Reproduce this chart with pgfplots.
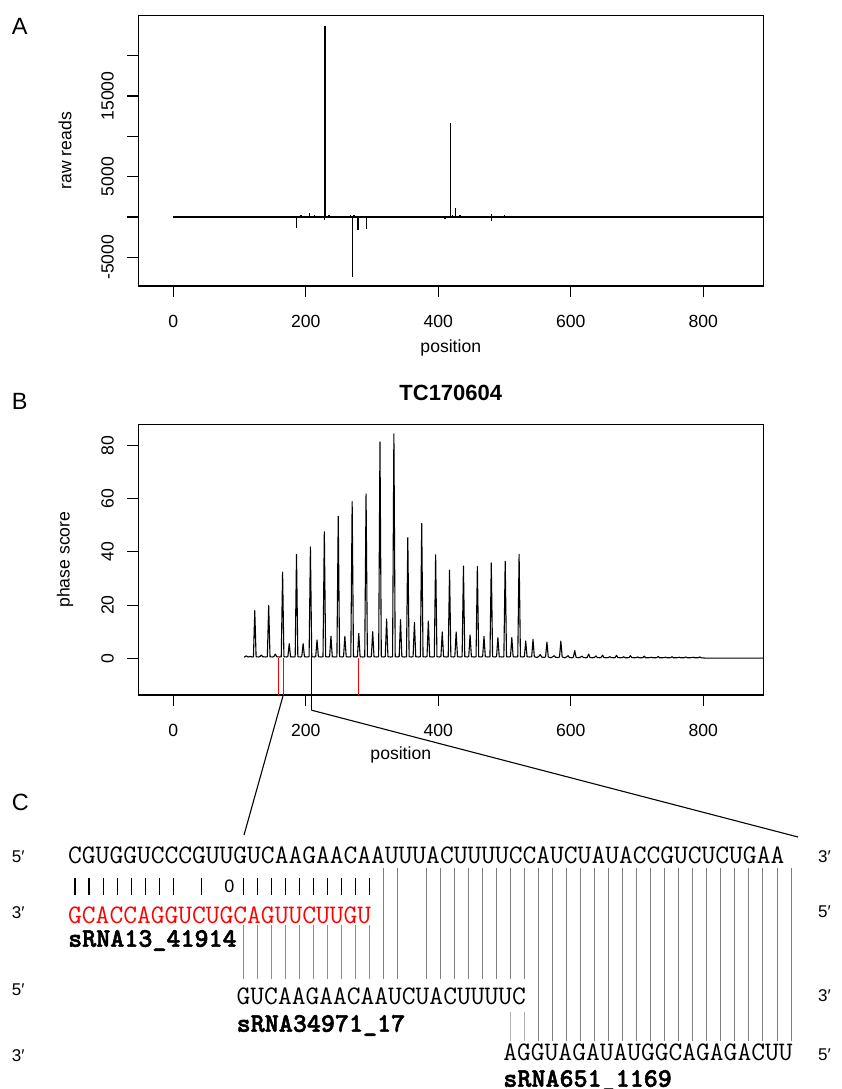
\documentclass[border=0pt]{standalone}
\usepackage{fontspec}
\setmainfont{Liberation Sans}
\newfontfamily\seqbold[FakeBold=2]{lmmonolt10-bold.otf}
\usepackage{pgfplots}
\pgfplotsset{compat=1.18}

\newcommand\axf{\fontsize{17.6}{20}\selectfont}
\newcommand\seqf{\ttfamily\fontsize{26.74}{30}\selectfont}
\newcommand\seqbf{\seqbold\fontsize{26.74}{30}\selectfont}
\newcommand\primef{\fontsize{17}{19}\selectfont}
\newcommand\panelf{\fontsize{23.5}{26}\selectfont}

\pgfplotsset{
  rbox/.style={
    scale only axis, width=625pt, height=270.7pt,
    xmin=-52.8, xmax=890.6,
    tick align=outside, major tick length=11pt,
    tick pos=left,
    xtick={0,200,400,600,800},
    xticklabels={0,200,400,600,800},
    axis line style={line width=1.1pt},
    every tick/.style={black, line width=1.1pt},
    ticklabel style={font=\axf, inner sep=0pt},
    xticklabel style={anchor=base},
    yticklabel style={rotate=90, anchor=base},
    xticklabel shift=30.3pt,
    yticklabel shift=13.7pt,
    label style={font=\axf},
    /pgf/number format/assume math mode=true,
    scaled ticks=false,
  }
}

\begin{document}
\begin{tikzpicture}[x=1pt,y=1pt]
\useasboundingbox (0,0) rectangle (841,-1089);

% ---------------- A: raw reads
\begin{axis}[rbox, at={(138.3pt,-286pt)}, anchor=south west,
    ymin=-8554, ymax=25005,
    ytick={-5000,0,5000,10000,15000,20000},
    yticklabels={-5000,,5000,,15000,},
    xlabel={position}, ylabel={raw reads},
    xlabel style={at={(axis description cs:0.5,-0.227)}, anchor=center},
    ylabel style={at={(axis description cs:-0.117,0.5)}, anchor=center},
  ]
  \addplot[black, line width=1.2pt] coordinates {(0,0) (890.6,0)};
  \addplot[black, ycomb, line width=1.3pt] coordinates {
    (178,80) (186,120) (193,200) (198,150) (206,450) (213,250) (220,150)
    (229,23700) (235,250) (240,150) (262,150) (268,250) (273,200) (283,100)
    (300,100) (320,80) (340,100) (360,80) (380,80) (410,150) (418,11600)
    (421,300) (426,1100) (433,250) (440,150) (450,100) (480,350) (500,300)
    (507,150) (530,80) (560,80) (600,60) (650,60) (688,150) (695,100)
    (750,100) (800,50)
  };
  \addplot[black, ycomb, line width=1.3pt] coordinates {
    (186,-1400) (228,-350) (270,-7400) (279,-1600) (292,-1500) (410,-250)
    (418,-150) (480,-450) (688,-120) (750,-100)
  };
\end{axis}

% ---------------- B: phase score
\begin{axis}[rbox, at={(138.3pt,-695pt)}, anchor=south west,
    ymin=-13.8, ymax=88.0,
    ytick={0,20,40,60,80}, yticklabels={0,20,40,60,80},
    clip=false,
    title={TC170604},
    title style={font=\bfseries\fontsize{22}{24}\selectfont,
      at={(axis description cs:0.5,1)}, anchor=base, yshift=17.6pt, inner sep=0pt},
    xlabel={position}, ylabel={phase score},
    xlabel style={at={(axis description cs:0.42,-0.222)}, anchor=center},
    ylabel style={at={(axis description cs:-0.117,0.5)}, anchor=center},
  ]
  \addplot[black, line width=1.1pt, line join=round] coordinates {
    (107,0.4) (110,0.9) (113,0.5) (116,0.7) (119,0.5) (121,0.6)
    (123,17.9) (125,0.6) (129,0.5) (131,0.7) (133,1.2) (135,0.6) (139,0.5) (142,0.6)
    (144,19.9) (146,0.6) (150,0.5) (152,0.7) (154,1.6) (156,0.6) (160,0.5) (163,0.6)
    (165,32.4) (167,0.6) (171,0.5) (173,0.7) (175,5.5) (177,0.6) (181,0.5) (184,0.6)
    (186,39.1) (188,0.6) (192,0.5) (194,0.7) (196,5.5) (198,0.6) (202,0.5) (205,0.6)
    (207,41.9) (209,0.6) (213,0.5) (215,0.7) (217,6.9) (219,0.6) (223,0.5) (226,0.6)
    (228,47.6) (230,0.6) (234,0.5) (236,0.7) (238,8.3) (240,0.6) (244,0.5) (247,0.6)
    (249,53.4) (251,0.6) (255,0.5) (257,0.7) (259,8.3) (261,0.6) (265,0.5) (268,0.6)
    (270,58.9) (272,0.6) (276,0.5) (278,0.7) (280,9.4) (282,0.6) (286,0.5) (289,0.6)
    (291,61.8) (293,0.6) (297,0.5) (299,0.7) (301,10.0) (303,0.6) (307,0.5) (310,0.6)
    (312,81.4) (314,0.6) (318,0.5) (320,0.7) (322,14.8) (324,0.6) (328,0.5) (331,0.6)
    (333,84.4) (335,0.6) (339,0.5) (341,0.7) (343,14.5) (345,0.6) (349,0.5) (352,0.6)
    (354,45.4) (356,0.6) (360,0.5) (362,0.7) (364,13.5) (366,0.6) (370,0.5) (373,0.6)
    (375,50.7) (377,0.6) (381,0.5) (383,0.7) (385,14.0) (387,0.6) (391,0.5) (394,0.6)
    (396,38.9) (398,0.6) (402,0.5) (404,0.7) (406,9.9) (408,0.6) (412,0.5) (415,0.6)
    (417,33.2) (419,0.6) (423,0.5) (425,0.7) (427,9.9) (429,0.6) (433,0.5) (436,0.6)
    (438,34.7) (440,0.6) (444,0.5) (446,0.7) (448,8.8) (450,0.6) (454,0.5) (457,0.6)
    (459,34.5) (461,0.6) (465,0.5) (467,0.7) (469,8.2) (471,0.6) (475,0.5) (478,0.6)
    (480,35.9) (482,0.6) (486,0.5) (488,0.7) (490,7.8) (492,0.6) (496,0.5) (499,0.6)
    (501,36.5) (503,0.6) (507,0.5) (509,0.7) (511,7.8) (513,0.6) (517,0.5) (520,0.6)
    (522,39.1) (524,0.6) (528,0.5) (530,0.7) (532,6.5) (534,0.6) (538,0.5) (541,0.6)
    (543,7.1) (545,0.6) (549,0.3) (552,0.8) (554,1.4) (556,0.5) (560,0.3) (562,0.6)
    (564,6.1) (566,0.5) (570,0.2) (573,0.6) (575,1.0) (577,0.4) (581,0.3) (583,0.5)
    (585,6.5) (587,0.5) (591,0.2) (594,0.6) (596,1.0) (598,0.3) (602,0.2) (604,0.5)
    (606,2.9) (608,0.4) (612,0.2) (615,0.5) (617,0.8) (619,0.3) (623,0.2) (625,0.4)
    (627,1.6) (629,0.3) (633,0.2) (636,0.4) (638,0.9) (640,0.3) (644,0.2) (646,0.4)
    (648,1.2) (650,0.3) (654,0.2) (657,0.3) (659,0.6) (661,0.3) (665,0.2) (667,0.3)
    (669,1.1) (671,0.3) (675,0.2) (678,0.3) (680,0.6) (682,0.2) (686,0.2) (688,0.3)
    (690,1.0) (692,0.3) (696,0.2) (699,0.3) (701,0.5) (703,0.2) (707,0.2) (709,0.3)
    (711,0.8) (713,0.2) (717,0.2) (720,0.3) (722,0.4) (724,0.2) (728,0.2) (730,0.3)
    (732,0.7) (734,0.2) (738,0.2) (741,0.3) (743,0.4) (745,0.2) (749,0.2) (751,0.3)
    (753,0.6) (755,0.2) (759,0.2) (762,0.3) (764,0.4) (766,0.2) (770,0.2) (772,0.3)
    (774,0.5) (776,0.2) (780,0.2) (783,0.3) (785,0.4) (787,0.2) (791,0.2) (793,0.3)
    (795,0.5) (797,0.2) (802,0.1) (806,0.05) (890.6,0.05)
  };
  \addplot[red, ycomb, line width=1.1pt] coordinates {(158.5,-13.8) (166,-13.8) (279.3,-13.8)};
  \draw[black, line width=1.1pt] (axis cs:208.5,0.5) -- (axis cs:208.5,-19.5) coordinate (k2);
  \coordinate (r2) at (axis cs:166,-13.8);
\end{axis}

\draw[line width=1.1pt] (r2) -- (244,-835);
\draw[line width=1.1pt] (k2) -- (798,-837);

% ---------------- panel letters
\node[font=\panelf, anchor=base west, inner sep=0pt] at (11.7,-35) {A};
\node[font=\panelf, anchor=base west, inner sep=0pt] at (11.7,-409.3) {B};
\node[font=\panelf, anchor=base west, inner sep=0pt] at (11.7,-810) {C};

% ---------------- C: alignment
\begin{scope}[every node/.style={inner sep=0pt, anchor=base west}]
  \node[font=\seqf] at (68,-863) {CGUGGUCCCGUUGUCAAGAACAAUUUACUUUUCCAUCUAUACCGUCUCUGAA};
  \node[font=\seqf, text=red] at (68,-923) {GCACCAGGUCUGCAGUUCUUGU};
  \node[font=\seqbf] at (68,-946.7) {sRNA13\_41914};
  \node[font=\seqf] at (236.5,-1004) {GUCAAGAACAAUCUACUUUUC};
  \node[font=\seqbf] at (236.5,-1031.7) {sRNA34971\_17};
  \node[font=\seqf] at (503.2,-1060) {AGGUAGAUAUGGCAGAGACUU};
  \node[font=\seqbf] at (503.2,-1086.7) {sRNA651\_1169};
  % end labels
  \node[font=\primef] at (11.7,-862) {5′};
  \node[font=\primef] at (11.7,-918) {3′};
  \node[font=\primef] at (11.7,-995) {5′};
  \node[font=\primef] at (11.7,-1061) {3′};
  \node[font=\primef] at (818,-862) {3′};
  \node[font=\primef] at (818,-917) {5′};
  \node[font=\primef] at (818,-1001.7) {3′};
  \node[font=\primef] at (818,-1060) {5′};
\end{scope}
% pairing bars between target and sRNA13_41914
\foreach \i in {0,1,2,3,4,5,6,7,9,12,13,14,15,16,17,18,19,20,21}
  \draw[line width=1.2pt] ({68+14.04*(\i+0.5)},-878) -- ++(0,-17);
\node[font=\fontsize{18}{20}\selectfont, inner sep=0pt] at ({68+14.04*11.5},-886.5) {0};
% identity / pairing guide lines
\foreach \i in {12,13,14,15,16,17,18,19,20,21}
  \draw[black!45, line width=1pt] ({68+14.04*(\i+0.5)},-925) -- ++(0,-54);
\foreach \i in {22,23,25,26,27,28,29,30,31,32}
  \draw[black!50, line width=1pt] ({68+14.04*(\i+0.5)},-868) -- ++(0,-111);
\foreach \i in {33,34,35,36,37,38,39,40,41,42,43,44,45,46,47,48,49,50,51}
  \draw[black!50, line width=1pt] ({68+14.04*(\i+0.5)},-868) -- ++(0,-173);
\foreach \i in {31,32}
  \draw[black!30, line width=1pt] ({68+14.04*(\i+0.5)},-1012) -- ++(0,-29);
\end{tikzpicture}
\end{document}
